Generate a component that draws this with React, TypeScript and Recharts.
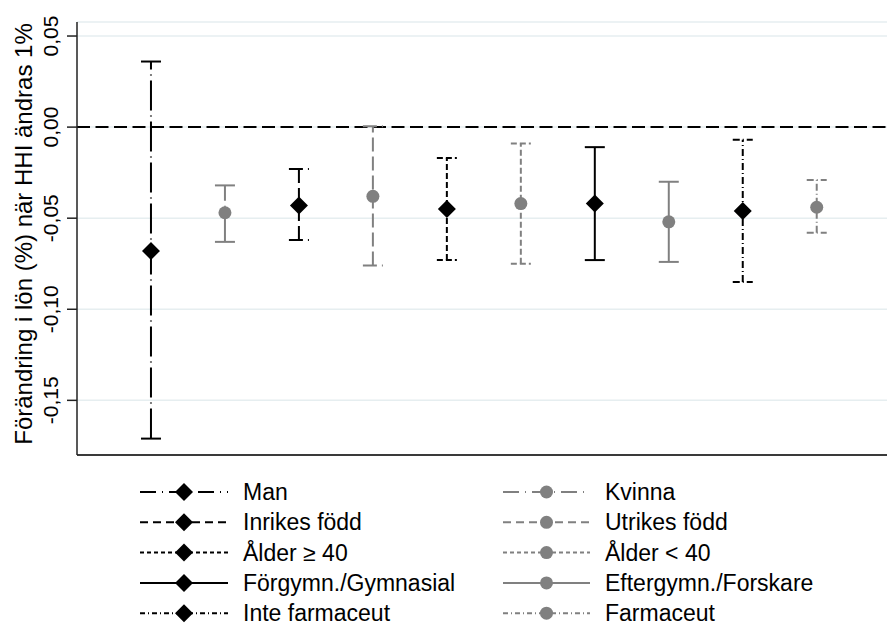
import React from 'react';
import { ScatterChart, Scatter, XAxis, YAxis, CartesianGrid, ReferenceLine, ErrorBar } from 'recharts';

// groups, in the order they appear on the x axis
const categories = [
  'Man', 'Kvinna',
  'Inrikes född', 'Utrikes född',
  'Ålder ≥ 40', 'Ålder < 40',
  'Förgymn./Gymnasial', 'Eftergymn./Forskare',
  'Inte farmaceut', 'Farmaceut',
];
const estimates = [-0.068, -0.047, -0.043, -0.038, -0.045, -0.042, -0.042, -0.052, -0.046, -0.044];
const lowerBounds = [-0.171, -0.063, -0.062, -0.076, -0.073, -0.075, -0.073, -0.074, -0.085, -0.058];
const upperBounds = [0.036, -0.032, -0.023, 0.0005, -0.017, -0.009, -0.011, -0.030, -0.007, -0.029];
const yTicks = [-0.15, -0.1, -0.05, 0, 0.05];

const FONT = '"Liberation Sans", Arial, Helvetica, sans-serif';
const BLACK = '#000000';
const GRAY = '#808080';

// one line pattern per pair of groups
const plotDash = ['30 5 1 5', '14 5', '6 3', '', '7 3 1 3'];
const legendDash = ['16 6 1 6', '8 5', '4 3', '', '5 3 1 3'];

const series = categories.map((name, i) => ({
  name,
  color: i % 2 === 0 ? BLACK : GRAY,
  dash: plotDash[Math.floor(i / 2)],
  legendDash: legendDash[Math.floor(i / 2)],
  diamond: i % 2 === 0,
  data: [{
    x: i + 1,
    y: estimates[i],
    err: [estimates[i] - lowerBounds[i], upperBounds[i] - estimates[i]],
  }],
}));

const fmt = (v: number) => v.toFixed(2).replace('.', ',');

const Diamond = (props: any) => {
  const { cx, cy } = props;
  const r = 9;
  return <polygon points={`${cx},${cy - r} ${cx + r},${cy} ${cx},${cy + r} ${cx - r},${cy}`} fill={BLACK} />;
};

const Dot = (props: any) => <circle cx={props.cx} cy={props.cy} r={6.5} fill={GRAY} />;

const YTick = (props: any) => {
  const { x, y, payload } = props;
  const bx = x - 7;
  return (
    <text x={bx} y={y} transform={`rotate(-90 ${bx} ${y})`} textAnchor="middle"
      fontSize={21} fontFamily={FONT} fill={BLACK}>
      {fmt(payload.value)}
    </text>
  );
};

const YTitle = () => (
  <text x={32} y={234} transform="rotate(-90 32 234)" textAnchor="middle"
    fontSize={24} fontFamily={FONT} fill={BLACK}>
    Förändring i lön (%) när HHI ändras 1%
  </text>
);

function LegendBlock() {
  const rowY = (r: number) => 492 + r * 30.3;
  return (
    <svg width={887} height={631} style={{ position: 'absolute', left: 0, top: 0, pointerEvents: 'none' }}>
      {series.map((s, i) => {
        const col = i % 2;
        const y = rowY(Math.floor(i / 2));
        const x1 = col === 0 ? 140 : 503;
        const x2 = col === 0 ? 228 : 590;
        const mx = (x1 + x2) / 2;
        const tx = col === 0 ? 243 : 605;
        return (
          <g key={s.name}>
            <line x1={x1} x2={x2} y1={y} y2={y} stroke={s.color} strokeWidth={2}
              strokeDasharray={s.legendDash || undefined} />
            {s.diamond ? <Diamond cx={mx} cy={y} /> : <Dot cx={mx} cy={y} />}
            <text x={tx} y={y} dominantBaseline="central" fontSize={23} fontFamily={FONT} fill={BLACK}>
              {s.name}
            </text>
          </g>
        );
      })}
    </svg>
  );
}

export default function App() {
  return (
    <div style={{ position: 'absolute', left: 0, top: 0, width: 887, height: 631, background: '#fff' }}>
      <ScatterChart width={887} height={631} margin={{ top: 22, right: 0, bottom: 175, left: 0 }}>
        <CartesianGrid vertical={false} stroke="#e6eef0" strokeWidth={1.5} />
        <XAxis type="number" dataKey="x" domain={[0, 10.95]} tick={false} tickLine={false}
          height={1} axisLine={{ stroke: '#3a3a3a', strokeWidth: 2 }} />
        <YAxis type="number" dataKey="y" domain={[-0.18, 0.0577]} ticks={yTicks} interval={0}
          allowDataOverflow width={77} tickSize={10} tick={<YTick />}
          axisLine={{ stroke: '#222', strokeWidth: 1.5 }} tickLine={{ stroke: '#222', strokeWidth: 1.5 }}
          label={{ content: () => <YTitle /> }} />
        <ReferenceLine y={0} stroke={BLACK} strokeWidth={2} strokeDasharray="13 5.5" />
        {series.map((s) => (
          <Scatter key={s.name} name={s.name} data={s.data} isAnimationActive={false}
            shape={s.diamond ? <Diamond /> : <Dot />}>
            <ErrorBar dataKey="err" direction="y" width={10} stroke={s.color} strokeWidth={2}
              strokeDasharray={s.dash || undefined} isAnimationActive={false} />
          </Scatter>
        ))}
      </ScatterChart>
      <LegendBlock />
    </div>
  );
}
